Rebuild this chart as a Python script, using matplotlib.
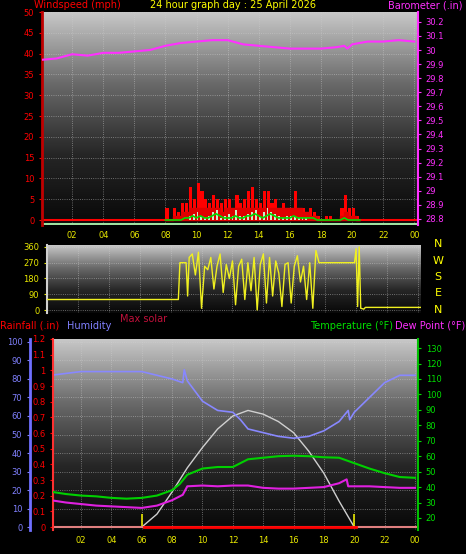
import numpy as np
import matplotlib
matplotlib.use("Agg")
import matplotlib.pyplot as plt
from matplotlib.colors import LinearSegmentedColormap

W, H = 466, 554
# ---------------- data ----------------
baro_h = [0, 1, 2, 3, 4, 5, 6, 7, 8, 9, 10, 11, 12, 13, 14, 15, 16, 17, 18, 19, 19.5, 19.7, 20, 21, 22, 23, 24]
baro_v = [29.93, 29.94, 29.97, 29.96, 29.98, 29.98, 29.99, 30.00, 30.03, 30.05, 30.06, 30.07, 30.07, 30.04, 30.03, 30.02, 30.01, 30.01, 30.01, 30.02, 30.03, 30.01, 30.04, 30.06, 30.06, 30.07, 30.06]

gust_h0, gust_step = 8.0, 0.25
gust_v = [3, 0, 3, 2, 4, 4, 8, 5, 9, 7, 5, 4, 6, 5, 4, 5, 5, 3, 6, 4, 5, 7, 8, 5, 4, 7, 7, 4, 5, 3, 4, 3, 3, 7, 3, 3, 2, 3, 2, 1, 0, 1, 1, 0, 0, 3, 6, 3, 3, 1, 0]
base_v = [0, 0, 1, 1, 2, 2, 3, 3, 3, 3, 3, 3, 3, 3, 2, 3, 3, 3, 3, 3, 3, 3, 3, 3, 3, 3, 3, 3, 3, 3, 3, 3, 3, 3, 3, 2, 2, 1, 1, 0, 0, 0, 0, 0, 0, 1, 2, 1, 1, 0, 0]
avg_v = [0, 0, 0, 0, 0, 0.5, 0.5, 1, 0.5, 1, 0.5, 0.5, 1, 1.5, 1, 0.5, 0.5, 0.5, 1, 0.5, 0.5, 1, 1, 1.5, 1, 0.5, 1, 1.5, 1, 0.5, 0.5, 0.5, 0.5, 1, 0.5, 0.5, 0.5, 0.5, 0.5, 0, 0, 0, 0, 0, 0, 0, 0.5, 0, 0, 0, 0]
lite_v = [0, 0, 0, 0, 0, 0, 1, 1.5, 2, 1, 0.5, 1, 2, 2.5, 0.5, 1, 1.5, 1, 2.5, 1, 1, 1.5, 2, 2.5, 1, 2, 3, 2, 1.5, 1, 0.5, 1, 1, 1, 0.5, 0.5, 0.5, 0, 0, 0, 0, 0, 0, 0, 0, 0, 0, 0, 0, 0, 0]

dir_h = [0, 8.5, 8.6, 9.0, 9.1, 9.2, 9.4, 9.6, 9.8, 10.0, 10.2, 10.4, 10.6, 10.8, 11.0, 11.2, 11.4, 11.6, 11.8, 12.0, 12.2, 12.4, 12.6, 12.8, 13.0, 13.2, 13.4, 13.6, 13.8, 14.0, 14.2, 14.4, 14.6, 14.8, 15.0, 15.2, 15.4, 15.6, 15.8, 16.0, 16.2, 16.4, 16.6, 16.8, 17.0, 17.2, 17.4, 17.6, 19.9, 20.0, 20.1, 20.2, 20.3, 20.5, 20.6, 24.2]
dir_v = [60, 60, 270, 270, 80, 300, 320, 200, 330, 10, 250, 230, 300, 120, 250, 320, 100, 260, 180, 280, 30, 250, 290, 60, 270, 110, 300, 0, 260, 320, 40, 300, 80, 280, 210, 20, 260, 270, 40, 250, 310, 160, 250, 60, 270, 10, 340, 270, 270, 350, 20, 360, 10, 5, 15, 15]

hum_h = [0, 1, 2, 3, 4, 5, 6, 7, 8, 8.7, 8.8, 9, 10, 11, 12, 12.5, 13, 14, 15, 16, 17, 18, 19, 19.6, 19.7, 20, 21, 22, 23, 24]
hum_v = [82, 83, 84, 84, 84, 84, 84, 82, 80, 78, 85, 79, 68, 63, 62, 58, 53, 51, 49, 48, 49, 52, 57, 63, 58, 62, 70, 78, 82, 82]
temp_h = [0, 1, 2, 3, 4, 5, 6, 7, 8, 8.5, 9, 10, 11, 12, 13, 14, 15, 16, 17, 18, 19, 20, 21, 22, 23, 24]
temp_v = [37, 35.5, 34.5, 34, 33, 32.5, 33, 34.5, 38, 42, 48, 52, 53, 53, 58, 59, 60, 60.3, 60, 59.3, 59, 55.5, 52, 49, 46.5, 46]
dew_h = [0, 1, 2, 3, 4, 5, 6, 7, 8, 8.7, 9, 10, 11, 12, 13, 14, 15, 16, 17, 18, 19, 19.5, 19.6, 20, 21, 22, 23, 24]
dew_v = [31.5, 30, 29, 28, 27.5, 27, 26.5, 28, 31.5, 35, 40.5, 41, 40.5, 41, 41, 39.5, 39, 39, 39.5, 40, 42.5, 45, 40.5, 40.5, 40.5, 40, 39.5, 39.5]
sol_h = [6, 7, 8, 9, 10, 11, 12, 13, 14, 15, 16, 17, 18, 19, 20]
sol_v = [0, 7, 19, 32, 43, 53, 60, 63, 61, 57, 51, 41, 29, 14, 0]
sun_events = [6, 20]
hour_ticks = [2, 4, 6, 8, 10, 12, 14, 16, 18, 20, 22, 24]
hour_labels = ["02", "04", "06", "08", "10", "12", "14", "16", "18", "20", "22", "00"]

# ---------------- drawing ----------------
fig = plt.figure(figsize=(W/100, H/100), dpi=100, facecolor="black")
FS = 6
HF = 7

def rect(l, t, r, b):
    return [l/W, 1-b/H, (r-l)/W, (b-t)/H]

cmap = LinearSegmentedColormap.from_list("g", ["#080808", "#262626", "#6a6a6a", "#c8c8c8"])
def bg(ax):
    ax.imshow(np.linspace(0, 1, 256).reshape(-1, 1)[::-1], cmap=cmap, aspect="auto",
              extent=[0, 1, 0, 1], transform=ax.transAxes, zorder=0)

def style(ax):
    ax.set_facecolor("black")
    for s in ax.spines.values():
        s.set_visible(False)
    ax.grid(True, color="#d0d0d0", linestyle=":", linewidth=0.6, alpha=0.6)

# ---- top panel ----
ax1 = fig.add_axes(rect(42, 12, 418, 225))
style(ax1); bg(ax1)
ax1.set_xlim(0.06, 24.24); ax1.set_ylim(-1.2, 50.0)
gh = gust_h0 + gust_step*np.arange(len(gust_v))
ax1.bar(gh, gust_v, width=0.2, color="#ff0000", align="edge", zorder=3)
ax1.fill_between(gh, base_v, step="post", color="#e00000", zorder=3)
ax1.bar(gh, lite_v, width=0.12, color="#c8f0c8", align="edge", zorder=4)
ax1.plot(gh, avg_v, color="#00dd00", lw=1.2, zorder=5)
ax1.axhline(0, color="#ff0000", lw=1.5, zorder=2)
ax1.axhline(-0.9, color="#a0e0a0", lw=1.5, zorder=2)
ax1.set_yticks(range(0, 51, 5))
ax1.set_xticks(hour_ticks); ax1.set_xticklabels(hour_labels)
ax1.tick_params(axis="x", colors="#e8e800", labelsize=FS, length=0, pad=4)
ax1.tick_params(axis="y", colors="#ff0000", labelsize=FS, length=2)
ax1.spines["left"].set_visible(True); ax1.spines["left"].set_color("#c00000"); ax1.spines["left"].set_linewidth(2)
ax1b = ax1.twinx()
ax1b.set_ylim(28.757, 30.27)
ax1b.plot(baro_h, baro_v, color="#ff30ff", lw=1.5, zorder=5)
bt = np.arange(28.8, 30.21, 0.1)
ax1b.set_yticks(np.round(bt, 1))
ax1b.set_yticklabels(["30" if abs(v-30) < 1e-6 else "29" if abs(v-29) < 1e-6 else "%.1f" % v for v in bt])
ax1b.tick_params(axis="y", colors="#ff30ff", labelsize=FS, length=2)
for s in ax1b.spines.values(): s.set_visible(False)
ax1b.spines["right"].set_visible(True); ax1b.spines["right"].set_color("#ff30ff"); ax1b.spines["right"].set_linewidth(1.5)

fig.text(34/W, 1-0/H, "Windspeed (mph)", color="#ff0000", fontsize=HF, va="top")
fig.text(233/W, 1-0/H, "24 hour graph day : 25 April 2026", color="#ffff00", fontsize=HF, va="top", ha="center")
fig.text(463/W, 1-0/H, "Barometer (.in)", color="#ff30ff", fontsize=HF, va="top", ha="right")

# ---- middle panel ----
ax2 = fig.add_axes(rect(47, 245, 421, 313))
style(ax2); bg(ax2)
ax2.set_xlim(0, 24.2); ax2.set_ylim(-17, 371)
ax2.plot(dir_h, dir_v, color="#f0f020", lw=1.0, zorder=3)
ax2.set_yticks([0, 90, 180, 270, 360]); ax2.set_xticks(hour_ticks)
ax2.set_xticklabels([])
ax2.tick_params(axis="x", length=0)
ax2.tick_params(axis="y", colors="#e8e800", labelsize=FS, length=2)
ax2.spines["left"].set_visible(True); ax2.spines["left"].set_color("#d0d0d0"); ax2.spines["left"].set_linewidth(1.5)
for i, c in enumerate("NWSEN"):
    fig.text(438/W, 1-(244+i*16.5)/H, c, color="#ffff00", fontsize=8, va="center", ha="center")

# ---- bottom panel ----
fig.text(120/W, 1-319/H, "Max solar", color="#c0103a", fontsize=HF, va="center")
fig.text(0/W, 1-326/H, "Rainfall (.in)", color="#ff0000", fontsize=HF, va="center")
fig.text(67/W, 1-326/H, "Humidity", color="#8080ff", fontsize=HF, va="center")
fig.text(393/W, 1-326/H, "Temperature (°F)", color="#00e000", fontsize=HF, va="center", ha="right")
fig.text(465/W, 1-326/H, "Dew Point (°F)", color="#ff30ff", fontsize=HF, va="center", ha="right")

ax3 = fig.add_axes(rect(53, 339, 418, 530))
style(ax3); bg(ax3)
ax3.set_xlim(0.15, 24.2); ax3.set_ylim(-1.6, 101.6)
ax3.plot(hum_h, hum_v, color="#8888ff", lw=1.2, zorder=4)
ax3.plot(sol_h, sol_v, color="#d0d0d0", lw=1.0, zorder=3)
ax3.vlines(sun_events, 0, 7, color="#e8e800", lw=1.2, zorder=5)
ax3.set_yticks(range(0, 101, 10))
ax3.set_xticks(hour_ticks); ax3.set_xticklabels(hour_labels)
ax3.tick_params(axis="x", colors="#e8e800", labelsize=FS, length=0, pad=4)
ax3.tick_params(axis="y", colors="#8080ff", labelsize=FS, length=2)
ax3.spines["left"].set_visible(True); ax3.spines["left"].set_color("#7070ff"); ax3.spines["left"].set_linewidth(2)
ax3.spines["left"].set_position(("outward", 23*0.72))

ax3r = ax3.twinx()
ax3r.set_ylim(-0.019, 1.197)
ax3r.yaxis.set_ticks_position("left"); ax3r.yaxis.set_label_position("left")
ax3r.set_yticks(np.round(np.arange(0, 1.21, 0.1), 1))
ax3r.set_yticklabels(["0"] + ["%.1f" % v for v in np.arange(0.1, 0.95, 0.1)] + ["1", "1.1", "1.2"])
ax3r.tick_params(axis="y", colors="#ff0000", labelsize=FS, length=2)
for s in ax3r.spines.values(): s.set_visible(False)
ax3r.spines["left"].set_visible(True); ax3r.spines["left"].set_color("#ff3030"); ax3r.spines["left"].set_linestyle((0, (2, 1))); ax3r.spines["left"].set_linewidth(1.5)
ax3r.axhline(0, xmin=0.25, xmax=0.83, color="#ff0000", lw=2, zorder=3)
ax3r.axhline(0, color="#e08080", lw=1.5, zorder=2)

ax3t = ax3.twinx()
ax3t.set_ylim(12.2, 135.9)
ax3t.plot(temp_h, temp_v, color="#00d000", lw=1.5, zorder=4)
ax3t.plot(dew_h, dew_v, color="#e020e0", lw=1.5, zorder=4)
ax3t.set_yticks(range(20, 131, 10))
ax3t.tick_params(axis="y", colors="#00e000", labelsize=FS, length=2)
for s in ax3t.spines.values(): s.set_visible(False)
ax3t.spines["right"].set_visible(True); ax3t.spines["right"].set_color("#00c000"); ax3t.spines["right"].set_linewidth(1.5)

fig.savefig("out.png", dpi=100, facecolor="black")
